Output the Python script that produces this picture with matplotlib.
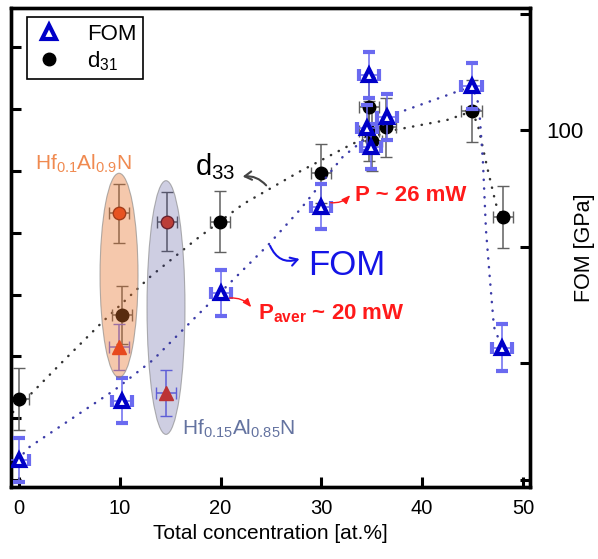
import matplotlib
matplotlib.use('Agg')
import matplotlib.pyplot as plt
from matplotlib.patches import Ellipse
from matplotlib.lines import Line2D

plt.rcParams['font.family'] = ['Liberation Sans', 'DejaVu Sans']
plt.rcParams['mathtext.fontset'] = 'custom'
plt.rcParams['mathtext.rm'] = 'Liberation Sans'
plt.rcParams['mathtext.it'] = 'Liberation Sans:italic'
plt.rcParams['mathtext.bf'] = 'Liberation Sans:bold'

# ---------------- data ----------------
# d31 (left axis, arbitrary units, unlabelled)
d31_x = [0.0, 10.2, 19.9, 30.0, 34.7, 34.7, 35.0, 36.4, 44.9, 48.0]
d31_y = [1.31, 2.67, 4.18, 4.96, 6.03, 5.64, 5.48, 5.70, 5.96, 4.25]
d31_yerr = [0.50, 0.47, 0.49, 0.48, 0.48, 0.48, 0.48, 0.48, 0.50, 0.50]
d31_xerr = [1.0, 1.0, 1.0, 1.0, 1.0, 1.0, 1.0, 1.0, 1.0, 1.0]

# FOM (right axis, GPa)
fom_x = [0.0, 10.2, 20.0, 30.0, 34.7, 34.5, 34.9, 36.5, 44.9, 47.9]
fom_y = [43.4, 53.6, 72.1, 86.9, 109.5, 100.4, 97.2, 102.3, 107.6, 62.7]
fom_yerr = [3.8, 3.9, 3.9, 3.9, 3.9, 3.9, 3.9, 3.9, 3.9, 4.0]
fom_xerr = [1.0, 1.0, 1.0, 1.0, 1.0, 1.0, 1.0, 1.0, 1.0, 1.0]

# HfAlN reference samples
hf_d31_x = [9.9, 14.7]
hf_d31_y = [4.31, 4.18]
hf_fom_x = [9.9, 14.6]
hf_fom_y = [62.8, 54.9]

# dotted guide curves
d33_fit_x = [-0.6, 4.17, 8.23, 13.10, 17.56, 22.22, 27.88, 33.13, 37.00, 42.46, 44.94, 45.54, 46.43, 47.32, 48.02]
d33_fit_y = [1.10, 1.89, 2.55, 3.30, 3.89, 4.46, 4.99, 5.44, 5.65, 5.82, 5.96, 5.73, 5.07, 4.46, 4.25]
fomfit_x = [-0.1, 0.89, 9.52, 13.29, 16.96, 24.70, 27.88, 32.14, 37.60, 43.06, 44.94, 45.63, 46.03, 46.33, 46.73, 47.12, 47.92]
fomfit_y = [43.4, 45.5, 55.5, 60.6, 67.0, 80.3, 86.4, 95.5, 103.0, 106.4, 107.6, 104.4, 94.6, 82.9, 74.3, 66.3, 62.7]

x_ticks = [0, 10, 20, 30, 40, 50]
right_ticks = [40, 60, 80, 100, 120]
right_ticklabels = ['', '', '', '100', '']

# ---------------- figure ----------------
fig = plt.figure(figsize=(5.98, 5.59), dpi=100)
ax = fig.add_axes([11/598, 1 - 487/559, 519/598, 479/559])
ax2 = ax.twinx()

ax.set_xlim(-0.8, 50.7)
ax.set_ylim(-0.11, 7.63)
ax2.set_ylim(38.8, 121.0)

blue = '#0000c8'
ebar_blue = '#6a6af0'
ebar_gray = '#606060'

# guide curves
ax.plot(d33_fit_x, d33_fit_y, color='#333333', lw=1.8, ls=(0, (0.1, 3.4)),
        dash_capstyle='round', zorder=1)
ax2.plot(fomfit_x, fomfit_y, color='#3c3ca8', lw=1.8, ls=(0, (0.1, 3.4)),
         dash_capstyle='round', zorder=1)

# d31 points
ax.errorbar(d31_x, d31_y, yerr=d31_yerr, xerr=d31_xerr, fmt='o', ms=9,
            color='black', ecolor=ebar_gray, elinewidth=1.1, capsize=4,
            capthick=1.0, zorder=3)
ax.errorbar(hf_d31_x, hf_d31_y, yerr=0.48, xerr=1.0, fmt='o', ms=9,
            mfc='#e8401c', mec='#7a1a10', mew=1.0, ecolor=ebar_gray,
            elinewidth=1.1, capsize=4, capthick=1.0, zorder=3)

# FOM points
ax2.errorbar(fom_x, fom_y, yerr=fom_yerr, xerr=fom_xerr, fmt='^', ms=8.5,
             mfc='white', mec=blue, mew=3.0, ecolor=ebar_blue, elinewidth=1.1,
             capsize=4, capthick=1.0, zorder=3)
ax2.errorbar(hf_fom_x, hf_fom_y, yerr=3.9, xerr=1.0, fmt='^', ms=10,
             mfc='#e83018', mec='#e83018', mew=1.0, ecolor=ebar_blue,
             elinewidth=1.1, capsize=4, capthick=1.0, zorder=3)

# translucent ellipses
e1 = Ellipse((9.92, 3.31), 3.77, 3.30, transform=ax.transData,
             facecolor=(231/255, 115/255, 41/255, 0.39),
             edgecolor=(0.5, 0.5, 0.5, 0.6), lw=0.8, zorder=10)
e2 = Ellipse((14.58, 2.79), 3.77, 4.10, transform=ax.transData,
             facecolor=(60/255, 60/255, 140/255, 0.25),
             edgecolor=(0.5, 0.5, 0.5, 0.6), lw=0.8, zorder=10)
ax2.add_patch(e1)
ax2.add_patch(e2)

# texts & arrows
T = ax.transData
ax2.text(1.59, 5.01, r'Hf$_{0.1}$Al$_{0.9}$N', transform=T, fontsize=15,
         color='#f08a50', ha='left', va='baseline', zorder=12)
ax2.text(16.17, 0.73, r'Hf$_{0.15}$Al$_{0.85}$N', transform=T, fontsize=15,
         color='#6473a0', ha='left', va='baseline', zorder=12)
ax2.text(17.46, 4.93, r'd$_{33}$', transform=T, fontsize=21,
         color='black', ha='left', va='baseline', zorder=12)
ax2.annotate('', xy=(21.92, 4.90), xytext=(24.70, 4.73), xycoords=T, textcoords=T,
             arrowprops=dict(arrowstyle='->,head_length=0.5,head_width=0.3',
                             color='#444444', lw=1.5,
                             connectionstyle='arc3,rad=0.3'), zorder=12)
ax2.text(28.67, 3.31, 'FOM', transform=T, fontsize=25, color='#1414e6',
         ha='left', va='baseline', zorder=12)
ax2.annotate('', xy=(28.08, 3.59), xytext=(24.80, 3.83), xycoords=T, textcoords=T,
             arrowprops=dict(arrowstyle='->,head_length=0.5,head_width=0.3',
                             color='#1414e6', lw=1.5,
                             connectionstyle='arc3,rad=0.5'), zorder=12)
ax2.text(33.33, 4.51, 'P ~ 26 mW', transform=T, fontsize=16, color='#ff1a1a',
         fontweight='bold', ha='left', va='baseline', zorder=12)
ax2.annotate('', xy=(33.04, 4.64), xytext=(30.65, 4.49), xycoords=T, textcoords=T,
             arrowprops=dict(arrowstyle='-|>,head_length=0.5,head_width=0.2',
                             color='#ff1a1a', lw=1.0,
                             connectionstyle='arc3,rad=0.3'), zorder=12)
ax2.text(23.71, 2.60, r'P$_{\mathbf{aver}}$ ~ 20 mW', transform=T, fontsize=16,
         color='#ff1a1a', fontweight='bold', ha='left', va='baseline', zorder=12)
ax2.annotate('', xy=(23.21, 2.76), xytext=(20.63, 2.94), xycoords=T, textcoords=T,
             arrowprops=dict(arrowstyle='-|>,head_length=0.5,head_width=0.2',
                             color='#ff1a1a', lw=1.0,
                             connectionstyle='arc3,rad=-0.3'), zorder=12)

# axes styling
for a in (ax, ax2):
    for s in a.spines.values():
        s.set_linewidth(2.4)
ax.set_xticks(x_ticks)
ax.set_yticks(range(0, 8))
ax.set_yticklabels([])
ax.tick_params(axis='x', direction='in', length=7, width=2.2, labelsize=14.5,
               pad=9, top=False)
ax.tick_params(axis='y', direction='in', length=7, width=2.2, right=False)
ax2.set_yticks(right_ticks)
ax2.set_yticklabels(right_ticklabels)
ax2.tick_params(axis='y', direction='in', length=7, width=2.2, labelsize=16, pad=12)

ax.set_xlabel('Total concentration [at.%]', fontsize=15, labelpad=4)
ax2.set_ylabel('FOM [GPa]', fontsize=15.5)
ax2.yaxis.set_label_coords(1.085, 0.5)

# legend
h1 = Line2D([], [], marker='^', ls='none', ms=9.5, mfc='white', mec=blue, mew=3.0)
h2 = Line2D([], [], marker='o', ls='none', ms=9, color='black')
leg = ax2.legend([h1, h2], ['FOM', r'd$_{31}$'], loc='upper left',
                 bbox_to_anchor=(0.031, 0.981), fontsize=16, frameon=True,
                 fancybox=False, edgecolor='black', framealpha=1,
                 borderaxespad=0, handlelength=1.4, handletextpad=1.0,
                 borderpad=0.3, labelspacing=0.2)
leg.get_frame().set_linewidth(1.2)
leg.set_zorder(20)

fig.savefig('out.png', dpi=100)
